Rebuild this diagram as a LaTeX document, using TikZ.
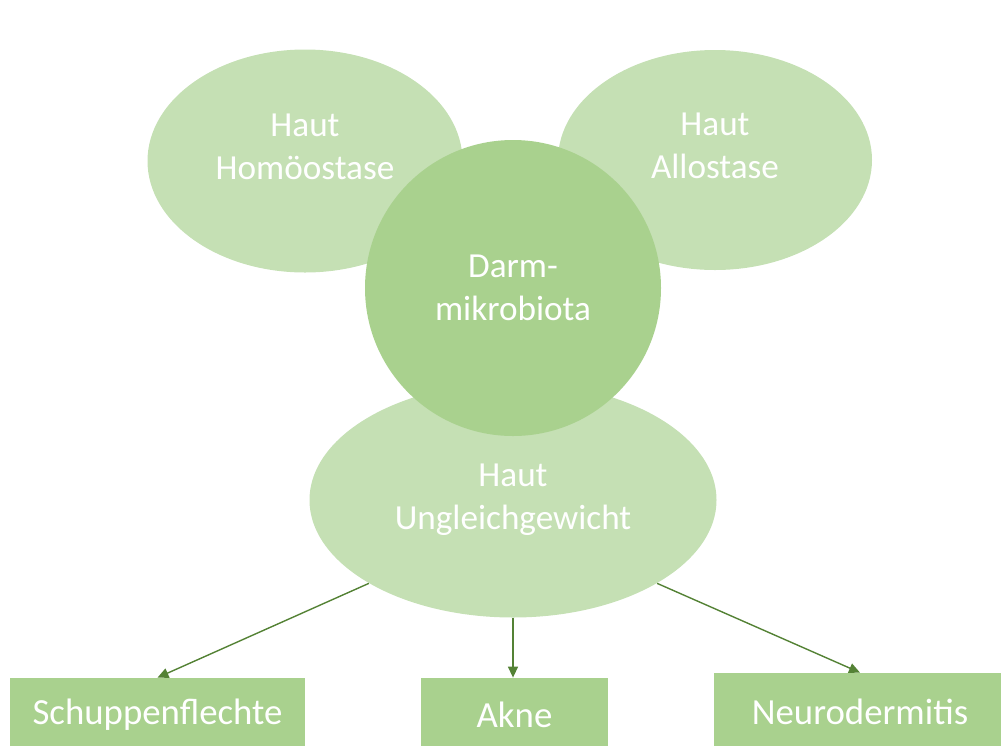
\documentclass[tikz,border=0pt]{standalone}
\usepackage{fontspec}
\setmainfont{Carlito}
\usepackage{tikz}
\usetikzlibrary{positioning,arrows.meta,shapes.geometric}
\definecolor{skinlight}{HTML}{C5E0B4}
\definecolor{gutgreen}{HTML}{A9D18E}
\definecolor{arrowgreen}{HTML}{548235}
\tikzset{
  skin/.style={ellipse,fill=skinlight,text=white,align=center,inner sep=0pt,font=\fontsize{17.6}{21.5}\selectfont},
  gut/.style={circle,fill=gutgreen,text=white,align=center,inner sep=0pt,minimum size=148pt,font=\fontsize{17.6}{21.5}\selectfont},
  disease/.style={rectangle,fill=gutgreen,text=white,inner sep=0pt,minimum height=37pt,font=\fontsize{18.4}{22}\selectfont},
  arr/.style={-{Triangle[length=5.5pt,width=5pt]},line width=0.7pt,draw=arrowgreen,fill=arrowgreen}
}

\begin{document}
\begin{tikzpicture}[x=0.5pt,y=-0.5pt]
\useasboundingbox (0,0) rectangle (1001,745);
\node[skin,minimum width=157.5pt,minimum height=111.5pt,text depth=14pt] (homoe) at (305,161) {Haut\\Homöostase};
\node[skin,minimum width=157pt,minimum height=110pt,text depth=14pt] (allo) at (715,160) {Haut\\Allostase};
\node[skin,minimum width=203.5pt,minimum height=117.5pt] (ungl) at (513,500) {Haut\\Ungleichgewicht};
\node[gut] (darm) at (513,288) {Darm-\\mikrobiota};

\node[disease,minimum width=147.5pt] (schuppen) at (157.5,715) {Schuppenflechte};
\node[disease,minimum width=93.5pt] (akne) at (514.5,715) {Akne};
\node[disease,minimum width=146pt,minimum height=39pt] (neuro) at (860,712) {Neurodermitis};

\draw[arr] (ungl.south west) -- (schuppen.north);
\draw[arr] (ungl.south) -- (ungl.south |- akne.north);
\draw[arr] (ungl.south east) -- (neuro.north);
\end{tikzpicture}
\end{document}
